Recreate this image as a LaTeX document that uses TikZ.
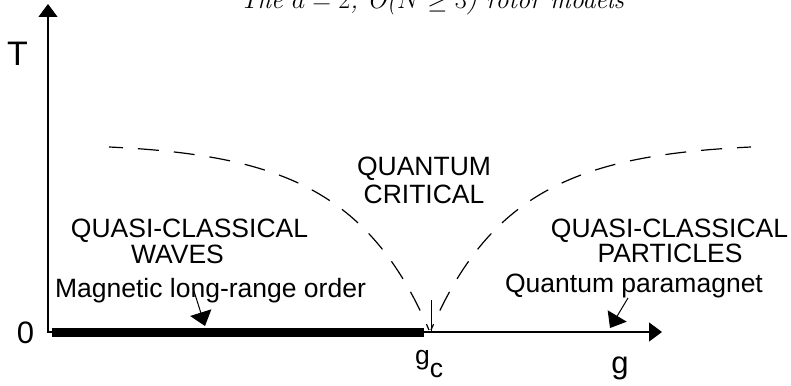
\documentclass[tikz,border=0pt]{standalone}
\usepackage{fix-cm}
\usepackage{fontspec}
\newfontfamily\sansf{Liberation Sans}
\usetikzlibrary{arrows.meta}
\begin{document}
\begin{tikzpicture}[x=1pt,y=-1pt,
  lbl/.style={font=\sansf\fontsize{26.5}{30}\selectfont, inner sep=0pt, anchor=base},
  axlbl/.style={font=\sansf\fontsize{31}{34}\selectfont, inner sep=0pt, anchor=base},
  axisline/.style={line width=1.3pt, {Triangle[width=19pt,length=13pt]}-{Triangle[width=19pt,length=13pt]}},
  ptr/.style={line width=1pt, -{Triangle[width=22pt,length=14pt]}},
  crit/.style={line width=1.2pt, dash pattern=on 21pt off 15pt, dash phase=7pt}]
\useasboundingbox (0,0) rectangle (791,385);
% title
\node[inner sep=0pt, anchor=base, font=\fontsize{26}{30}\selectfont\itshape] (title) at (432,9) {The $d=2$, O($N\geq 3$) rotor models};
% axes
\coordinate (O) at (48,332);
\coordinate (Ttip) at (48,4);
\coordinate (gtip) at (662,332);
\coordinate (barL) at (52,332);
\coordinate (barR) at (424,332);
\coordinate (gcTop) at (431,300);
\coordinate (gcBot) at (431,331);
\draw[axisline] (Ttip) -- (O) -- (gtip);
\draw[line width=9pt] (barL) -- (barR);
\draw[line width=1pt] (gcTop) -- (gcBot);
% crossover lines
\coordinate (cL) at (109,147);
\coordinate (cR) at (751,147);
\coordinate (cLb) at (429,330);
\coordinate (cRb) at (431,330);
\draw[crit] (cL) .. controls (279,155) and (369,190) .. (cLb);
\draw[crit] (cR) .. controls (581,155) and (491,190) .. (cRb);
% axis labels
\node[axlbl, font=\sansf\fontsize{34}{36}\selectfont] (T) at (17.5,66) {T};
\node[axlbl] (zero) at (25.5,343) {0};
\node[axlbl] (g) at (620,373) {g};
\node[lbl, anchor=base west] (gc) at (415,364) {g\raisebox{-13pt}{c}};
% region labels
\node[lbl] (qc1) at (424,175) {QUANTUM};
\node[lbl] (qc2) at (424,203) {CRITICAL};
\node[lbl] (qw1) at (189.5,237) {QUASI-CLASSICAL};
\node[lbl] (qw2) at (177.5,263) {WAVES};
\node[lbl] (mag) at (210.5,297) {Magnetic long-range order};
\node[lbl] (qp1) at (669.5,237) {QUASI-CLASSICAL};
\node[lbl] (qp2) at (670,262) {PARTICLES};
\node[lbl] (para) at (634,292) {Quantum paramagnet};
% pointers
\coordinate (magA) at (193,288);
\coordinate (magB) at (205,326);
\coordinate (paraA) at (628,298);
\coordinate (paraB) at (610,328);
\draw[ptr] (magA) -- (magB);
\draw[ptr] (paraA) -- (paraB);
\end{tikzpicture}
\end{document}
